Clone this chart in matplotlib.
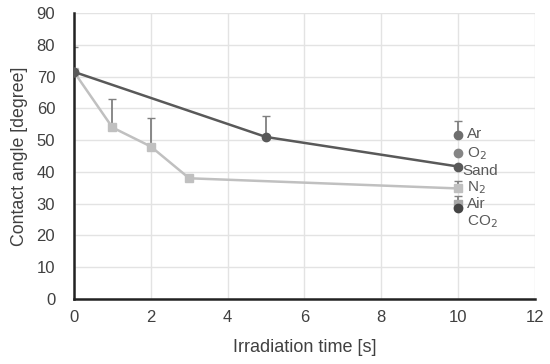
import matplotlib
matplotlib.use("Agg")
import matplotlib.pyplot as plt

plt.rcParams['font.family'] = ['Liberation Sans', 'DejaVu Sans']

# dark series (Sand)
sand_t = [0, 5, 10]
sand_y = [71.5, 51, 41.7]
sand_err = [0, 6.5, 0]

# light series (N2)
light_t = [0, 1, 2, 3, 10]
light_y = [71.5, 54, 48, 38, 34.8]
light_err = [7.8, 9, 9, 0, 2.5]

# single points at 10 s
gases = ["Ar", "O$_2$", "Air", "CO$_2$"]
gas_y = [51.7, 46, 29.8, 28.5]
gas_err = [4.4, 0, 2.5, 0]
gas_colors = ["#6e6e6e", "#858585", "#a8a8a8", "#454545"]
gas_markers = ["o", "o", "s", "o"]

# labels next to the 10 s points
lab_text = ["Ar", "O$_2$", "Sand", "N$_2$", "Air", "CO$_2$"]
lab_y = [51.9, 45.9, 40.3, 35.0, 30.0, 24.4]

fig, ax = plt.subplots(figsize=(5.5, 3.64), dpi=100)
fig.subplots_adjust(left=0.1345, right=0.9727, top=0.964, bottom=0.1786)

errc = "#808080"
ax.errorbar(light_t, light_y, yerr=[[0]*len(light_err), light_err], fmt='none',
            ecolor=errc, elinewidth=1.3, capsize=3, zorder=2)
ax.errorbar(sand_t, sand_y, yerr=[[0]*len(sand_err), sand_err], fmt='none',
            ecolor=errc, elinewidth=1.3, capsize=3, zorder=2)
ax.errorbar([10]*len(gas_y), gas_y, yerr=[[0]*len(gas_err), gas_err], fmt='none',
            ecolor=errc, elinewidth=1.3, capsize=3, zorder=2)

ax.plot(light_t, light_y, color="#c0c0c0", lw=1.8, marker='s', ms=5.5, zorder=3)
ax.plot(sand_t, sand_y, color="#595959", lw=1.8, marker='o', ms=6, zorder=4)
for y, c, m in zip(gas_y, gas_colors, gas_markers):
    ax.plot([10], [y], marker=m, color=c, ms=6, ls='none', zorder=4)

for t, y in zip(lab_text, lab_y):
    x = 10.12 if t == "Sand" else 10.22
    ax.text(x, y, t, fontsize=11, color="#595959", va='center', ha='left')

ax.set_xlim(0, 12)
ax.set_ylim(0, 90)
ax.set_xticks(range(0, 13, 2))
ax.set_yticks(range(0, 91, 10))
ax.grid(True, color="#e3e3e3", lw=1)
ax.set_axisbelow(True)
for s in ["top", "right"]:
    ax.spines[s].set_visible(False)
for s in ["left", "bottom"]:
    ax.spines[s].set_linewidth(1.8)
    ax.spines[s].set_color("#222222")
ax.tick_params(length=0, labelsize=12, colors="#404040")
ax.tick_params(axis='y', pad=13.5)
ax.tick_params(axis='x', pad=8)
ax.set_xlabel("Irradiation time [s]", fontsize=13, color="#404040")
ax.set_ylabel("Contact angle [degree]", fontsize=12.8, color="#404040")
ax.xaxis.set_label_coords(0.5, -0.14)
ax.yaxis.set_label_coords(-0.10, 0.5)

fig.savefig("out.png", dpi=100)
